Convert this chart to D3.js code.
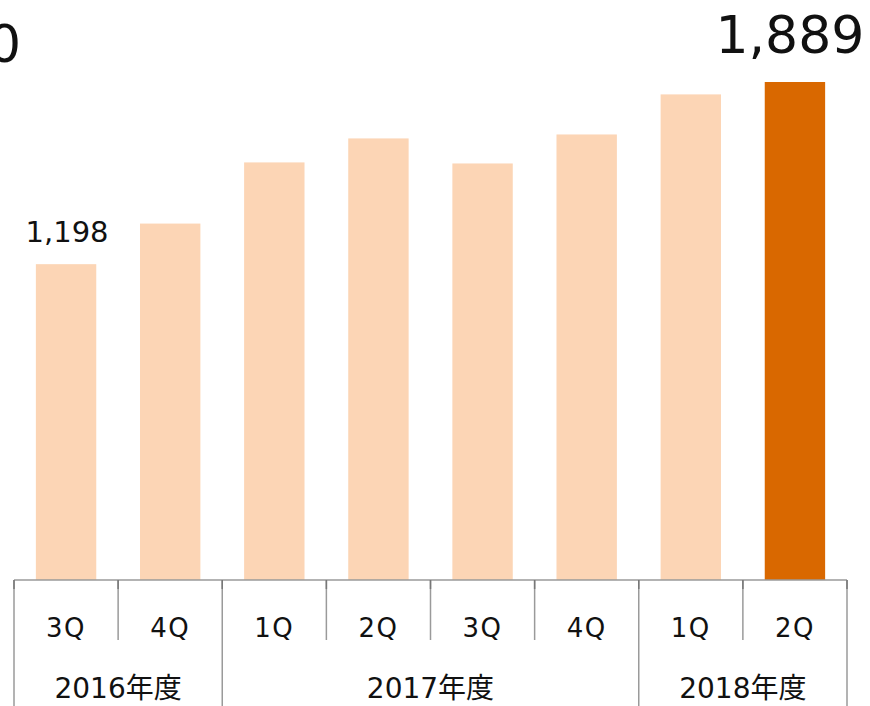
<!DOCTYPE html>
<html>
<head>
<meta charset="utf-8">
<title>D3.js</title>
<script src="https://d3js.org/d3.v7.min.js"></script>
<style>
  body { margin: 0; background: #fff; }
  text { font-family: "DejaVu Sans", "Noto Sans CJK JP", sans-serif; fill: #111; }
</style>
</head>
<body>
<svg id="mainsvg" width="870" height="706"></svg>
<script>
// ---------- data ----------
const quarters = ["3Q", "4Q", "1Q", "2Q", "3Q", "4Q", "1Q", "2Q"];
const values = [1198, 1352, 1584, 1675, 1580, 1690, 1842, 1889];
const years = ["2016年度", "2017年度", "2018年度"];
const yearSpans = [2, 4, 2];           // quarters per fiscal year
const highlight = 7;                   // current quarter
const cutLabel = "1,550";              // label cut off at the left edge

// ---------- setup ----------
const svg = d3.select("#mainsvg");
const left = 14, right = 847, base = 580, bottom = 706, rowSplit = 640;

const ids = quarters.map((q, i) => i);
const x = d3.scaleBand().domain(ids).range([left, right]).paddingInner(0.42).paddingOuter(0.21);
const cell = d3.scaleBand().domain(ids).range([left, right]).padding(0);
const y = d3.scaleLinear().domain([0, 1889]).range([base, 82]);

const fmt = d3.format(",");

// bars
svg.append("g").selectAll("rect").data(values).join("rect")
  .attr("x", (d, i) => x(i))
  .attr("y", d => y(d))
  .attr("width", x.bandwidth())
  .attr("height", d => base - y(d))
  .attr("fill", (d, i) => i === highlight ? "#D96800" : "#FCD5B5");

// value labels
svg.append("text")
  .attr("x", x(0) + x.bandwidth() / 2 + 1)
  .attr("y", y(values[0]) - 22)
  .attr("text-anchor", "middle")
  .attr("font-size", 29)
  .text(fmt(values[0]));

svg.append("text")
  .attr("x", x(7) + x.bandwidth() / 2 - 5)
  .attr("y", y(values[7]) - 29)
  .attr("text-anchor", "middle")
  .attr("font-size", 52)
  .text(fmt(values[7]));

svg.append("text")
  .attr("x", 21)
  .attr("y", 62)
  .attr("text-anchor", "end")
  .attr("font-size", 52)
  .text(cutLabel);

// ---------- category table ----------
const grid = svg.append("g").attr("stroke", "#9a9a9a").attr("stroke-width", 1.5);
grid.append("line").attr("x1", left).attr("x2", right).attr("y1", base).attr("y2", base);

// year boundaries
let acc = 0;
const yearEdges = [0];
yearSpans.forEach(s => { acc += s; yearEdges.push(acc); });
const edgeX = k => k < quarters.length ? cell(k) : right;

for (let k = 0; k <= quarters.length; k++) {
  const full = yearEdges.includes(k);
  grid.append("line")
    .attr("x1", edgeX(k)).attr("x2", edgeX(k))
    .attr("y1", base).attr("y2", full ? bottom : rowSplit);
  grid.append("line")
    .attr("stroke", "#777")
    .attr("x1", edgeX(k)).attr("x2", edgeX(k))
    .attr("y1", base).attr("y2", base + 9);
}

// quarter labels
svg.append("g").selectAll("text").data(quarters).join("text")
  .attr("x", (d, i) => cell(i) + cell.bandwidth() / 2)
  .attr("y", 637)
  .attr("text-anchor", "middle")
  .attr("font-size", 26)
  .attr("letter-spacing", 1.5)
  .text(d => d);

// year labels
svg.append("g").selectAll("text").data(years).join("text")
  .attr("x", (d, i) => (edgeX(yearEdges[i]) + edgeX(yearEdges[i + 1])) / 2)
  .attr("y", 698)
  .attr("text-anchor", "middle")
  .attr("font-size", 28)
  .text(d => d);
</script>
</body>
</html>
